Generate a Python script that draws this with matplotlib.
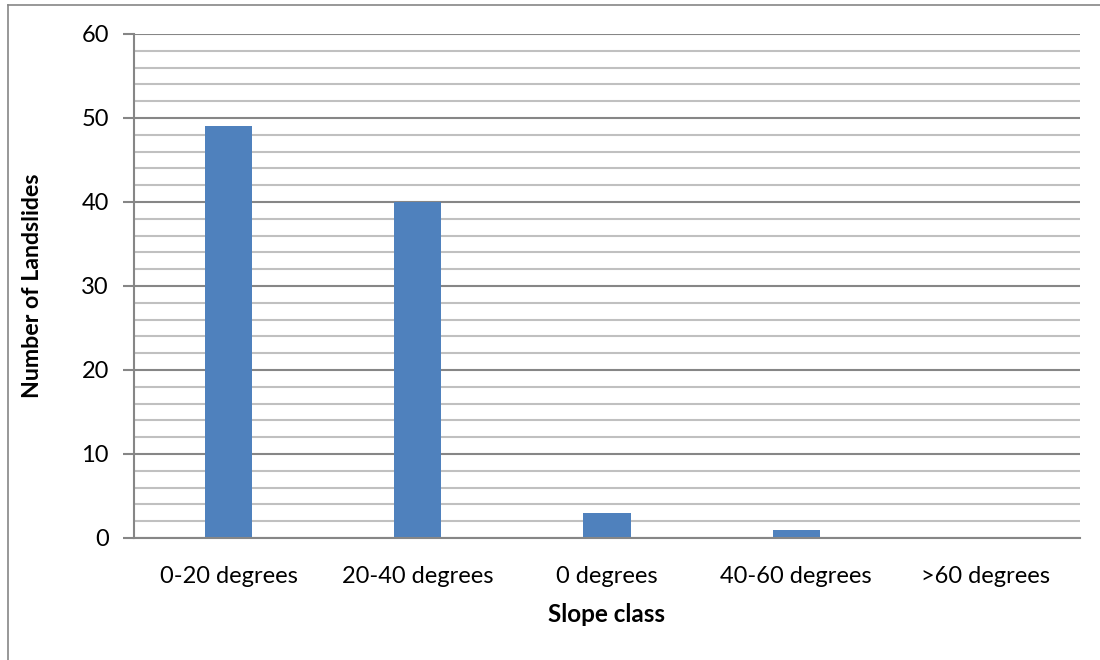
import matplotlib.pyplot as plt
from matplotlib.lines import Line2D
import numpy as np

categories = ["0-20 degrees", "20-40 degrees", "0 degrees", "40-60 degrees", ">60 degrees"]
landslides = [49, 40, 3, 1, 0]

BAR_COLOR = "#4F81BD"
AXIS_GRAY = "#868686"
MINOR_GRAY = "#C0C0C0"

plt.rcParams["font.family"] = ["Lato", "DejaVu Sans"]

fig = plt.figure(figsize=(11, 6.6), dpi=100, facecolor="white")
ax = fig.add_axes([134 / 1100, 1 - 538 / 660, (1080 - 134) / 1100, (538 - 34) / 660])

x = np.arange(len(categories))
ax.bar(x, landslides, width=0.25, color=BAR_COLOR, zorder=3)

ax.set_xlim(-0.5, len(categories) - 0.5)
ax.set_ylim(0, 60)
ax.set_yticks(np.arange(0, 61, 10))
ax.set_yticks(np.arange(0, 61, 2), minor=True)
ax.set_xticks(x)
ax.set_xticklabels(categories, fontsize=17)
ax.tick_params(axis="x", length=0, pad=20)
ax.tick_params(axis="y", which="major", length=8, width=1.5, color=AXIS_GRAY,
               labelsize=17, pad=10)
ax.tick_params(axis="y", which="minor", length=0)

ax.grid(axis="y", which="minor", color=MINOR_GRAY, lw=1.5, zorder=0)
ax.grid(axis="y", which="major", color=AXIS_GRAY, lw=1.5, zorder=1)
ax.set_axisbelow(True)

for side in ("top", "right"):
    ax.spines[side].set_visible(False)
for side in ("left", "bottom"):
    ax.spines[side].set_color(AXIS_GRAY)
    ax.spines[side].set_linewidth(1.5)
    ax.spines[side].set_zorder(4)

ax.set_xlabel("Slope class", fontsize=17.5, fontweight="bold")
ax.set_ylabel("Number of Landslides", fontsize=16.7, fontweight="bold")
ax.xaxis.set_label_coords(0.5, -(615 - 538) / 504, transform=ax.transAxes)
ax.yaxis.set_label_coords(-(134 - 33) / 946, 0.5, transform=ax.transAxes)
ax.xaxis.label.set_va("center")
ax.yaxis.label.set_va("center")

# frame lines along the top and left edge of the image
fig.add_artist(Line2D([8 / 1100, 1], [1 - 5 / 660, 1 - 5 / 660], color=AXIS_GRAY, lw=1.2))
fig.add_artist(Line2D([8 / 1100, 8 / 1100], [0, 1 - 5 / 660], color=AXIS_GRAY, lw=1.2))

fig.savefig("out.png", dpi=100, facecolor="white")
